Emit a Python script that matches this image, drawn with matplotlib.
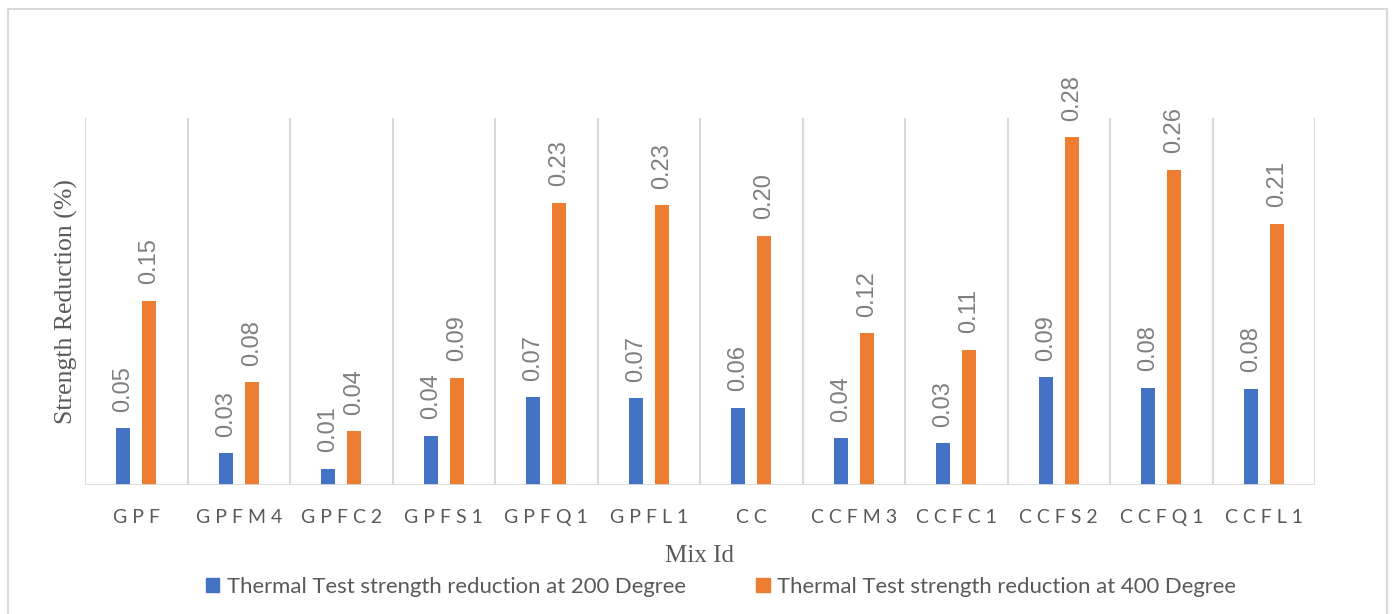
import matplotlib
matplotlib.use("Agg")
import matplotlib.pyplot as plt
import numpy as np
from matplotlib.patches import Patch, Rectangle

categories = ["GPF", "GPFM4", "GPFC2", "GPFS1", "GPFQ1", "GPFL1",
              "CC", "CCFM3", "CCFC1", "CCFS2", "CCFQ1", "CCFL1"]
series_200 = [0.0464, 0.0259, 0.0131, 0.0400, 0.0717, 0.0709,
              0.0630, 0.0382, 0.0341, 0.0881, 0.0796, 0.0785]
series_400 = [0.1505, 0.0840, 0.0439, 0.0877, 0.2306, 0.2287,
              0.2038, 0.1240, 0.1104, 0.2843, 0.2576, 0.2134]
series_names = ["Thermal Test strength reduction at 200 Degree",
                "Thermal Test strength reduction at 400 Degree"]
x_label = "Mix Id"
y_label = "Strength Reduction (%)"

BLUE = "#4472C4"
ORANGE = "#ED7D31"
GRID = "#d9d9d9"

fig = plt.figure(figsize=(13.92, 6.14), dpi=100)
ax = fig.add_axes([85/1392, 129/614, (1315-85)/1392, (485-118)/614])

x = np.arange(len(categories))
w = 0.137
off = 0.127
b1 = ax.bar(x - off, series_200, w, color=BLUE, zorder=3)
b2 = ax.bar(x + off, series_400, w, color=ORANGE, zorder=3)

for bars, vals in ((b1, series_200), (b2, series_400)):
    for rect, v in zip(bars, vals):
        ax.annotate(f"{v:.2f}", (rect.get_x() + rect.get_width()/2, v),
                    xytext=(0, 12), textcoords="offset points",
                    rotation=90, ha="center", va="bottom",
                    fontsize=17, color="#7f7f7f", family="Liberation Sans")

ax.set_xlim(-0.5, len(categories) - 0.5)
ax.set_ylim(0, 0.3)
for b in np.arange(-0.5, len(categories) + 0.5, 1.0):
    ax.axvline(b, color=GRID, lw=1.5, zorder=1)
for s in ax.spines.values():
    s.set_visible(False)
ax.axhline(0, color=GRID, lw=2, zorder=4)
ax.set_yticks([])
ax.set_xticks(x)
ax.set_xticklabels([" ".join(c) for c in categories], fontsize=14,
                   color="#595959", family="Lato")
ax.tick_params(axis="x", length=0, pad=17.5)

fig.text(699/1392, 1 - 555.5/614, x_label, ha="center", va="center",
         fontsize=18, color="#595959", family="Liberation Serif")
fig.text(66/1392, 1 - 302/614, y_label, ha="center", va="center",
         rotation=90, fontsize=18.5, color="#595959", family="Liberation Serif")

handles = [Patch(color=BLUE), Patch(color=ORANGE)]
fig.legend(handles, series_names, loc="center", bbox_to_anchor=(721/1392, 1 - 587/614),
           ncol=2, frameon=False, handlelength=0.6, handleheight=0.6,
           handletextpad=0.35, columnspacing=3.2,
           prop={"family": "Lato", "size": 15.9}, labelcolor="#595959")

fig.add_artist(Rectangle((8/1392, -0.01), (1387-8)/1392, 1 - 9/614 + 0.01,
                         transform=fig.transFigure, fill=False,
                         edgecolor=GRID, lw=1.5))

fig.savefig("out.png", dpi=100)
